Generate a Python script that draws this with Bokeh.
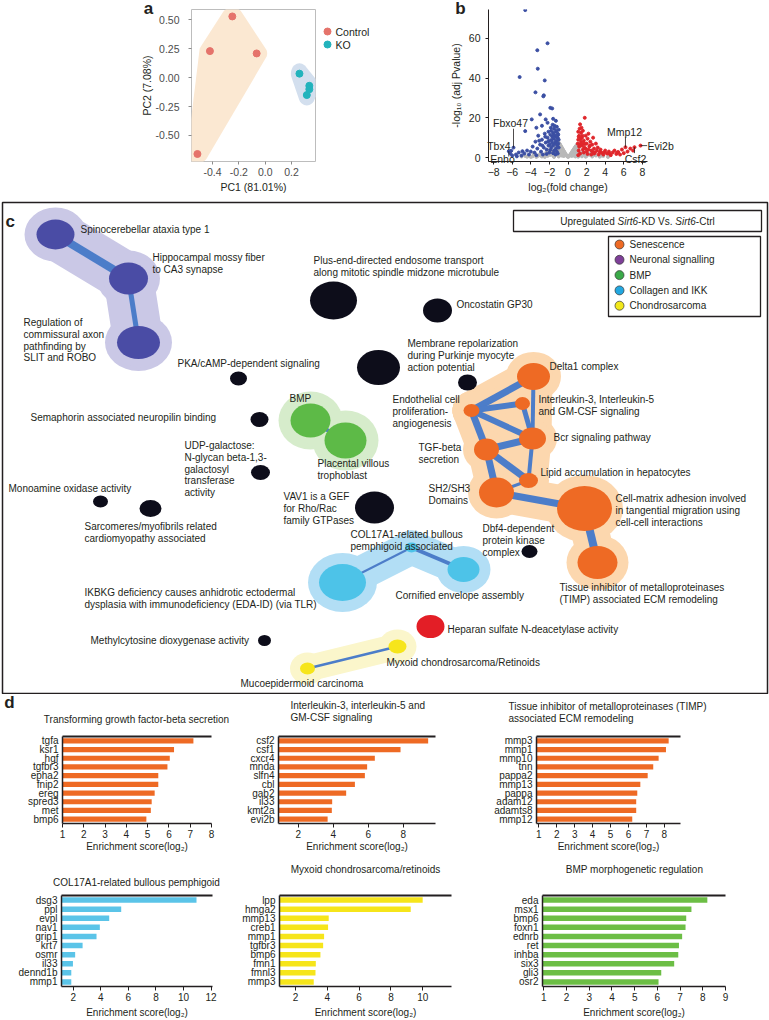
import numpy as np
from bokeh.plotting import figure
from bokeh.layouts import column, row
from bokeh.models import Range1d, FactorRange, FixedTicker, PrintfTickFormatter, LinearAxis, GridBox
from bokeh.core.properties import value
from bokeh.embed import file_html
from bokeh.resources import INLINE

FONT = "Liberation Sans"
INK = "#231F20"

# ---------------- panel a : PCA ----------------
pca_ctrl_pc1 = [-0.25, -0.42, -0.065, -0.515]
pca_ctrl_pc2 = [0.53, 0.23, 0.21, -0.66]
pca_ko_pc1 = [0.26, 0.335, 0.335, 0.316]
pca_ko_pc2 = [0.035, -0.07, -0.10, -0.15]
pca_groups = ["Control", "KO"]
pca_colors = ["#E5736B", "#22B3BC"]

# ---------------- panel b : volcano ----------------
grey_x = [-1.0, -0.9, -0.8, -0.7, -0.6, -0.5, -0.4, -0.3, -0.2, -0.1, 0.0, 0.1, 0.2, 0.3, 0.4, 0.5, 0.6, 0.7, 0.8, 0.9, 1.0,
          -0.95, -0.85, -0.75, -0.65, -0.55, -0.45, -0.35, -0.25, 0.25, 0.35, 0.45, 0.55, 0.65, 0.75, 0.85, 0.95,
          -0.9, -0.8, -0.7, -0.9, -1.0, -1.0, -0.6, -0.5, -0.8, -0.4, 0.4, 0.5, 0.6, 0.7, 0.8, 0.9, 1.0, 1.0, 0.8, -1.0,
          -5.0, -4.6, -4.2, -3.8, -3.5, -3.2, -3.0, -2.8, -2.6, -2.4, -2.2, -2.0, -1.8, -1.6, -1.4, -1.2, -1.1,
          -4.0, -3.4, -2.5, -1.5, 1.1, 1.3, 1.5, 1.7, 2.0, 2.3, 2.6, 3.0, 3.4, 3.8, 4.3, 1.2, 1.6, 2.1,
          -1.3, -1.2, -1.4, -1.1, -0.95, -0.85, 0.95, 0.85, -1.15, -1.25, -1.05, -0.7, -0.6, 0.6, 0.7,
          -2.9, -2.3, -1.9, -1.7, -3.7, -4.4, -2.1, 1.4, 1.9, 2.5, 2.8, 3.6, 1.05, 1.15]
grey_y = [7.5, 6.8, 6.0, 5.2, 4.4, 3.6, 2.8, 2.0, 1.3, 0.7, 0.3, 0.6, 1.1, 1.8, 2.5, 3.2, 3.9, 4.6, 5.3, 6.0, 6.5,
          7.0, 6.4, 5.6, 4.8, 4.0, 3.2, 2.4, 1.6, 1.4, 2.1, 2.9, 3.6, 4.3, 5.0, 5.6, 6.2,
          3.0, 2.0, 1.0, 1.2, 4.5, 2.5, 1.8, 0.8, 4.0, 0.9, 0.8, 1.6, 2.3, 1.2, 3.0, 2.0, 4.0, 1.0, 0.5, 0.5,
          0.5, 0.8, 1.0, 0.6, 1.4, 0.9, 1.8, 0.5, 1.2, 2.0, 0.8, 1.6, 2.4, 1.0, 2.0, 3.0, 1.2,
          0.3, 0.3, 0.3, 0.3, 0.4, 1.2, 0.6, 1.6, 0.8, 1.4, 0.5, 1.0, 0.4, 0.8, 0.3, 2.2, 2.6, 2.0,
          5.0, 6.5, 4.0, 8.0, 5.5, 3.2, 5.0, 2.2, 9.0, 7.5, 3.8, 3.0, 2.5, 1.0, 2.8,
          1.0, 2.8, 1.3, 3.2, 1.9, 0.4, 3.6, 2.0, 0.4, 2.2, 1.4, 1.0, 3.0, 4.8]
blue_x = [-4.6, -2.2, -3.3, -3.25, -5.2, -2.5, -3.5, -2.6, -2.65, -1.9, -1.7, -3.0, -3.9, -2.4, -4.6, -2.8, -2.2, -1.6,
          -3.4, -1.3, -1.0, -1.1, -1.2, -1.3, -1.1, -1.0, -1.2, -1.4, -1.5, -1.6, -1.5, -1.7, -1.8, -1.9, -1.7, -1.6,
          -1.4, -1.3, -1.2, -1.0, -1.1, -1.5, -1.8, -2.0, -2.1, -2.2, -2.3, -2.4, -2.5, -2.6, -2.8, -2.9, -3.0, -3.2,
          -3.3, -3.5, -3.6, -3.8, -4.0, -4.2, -4.4, -4.7, -5.0, -5.3, -5.6, -5.86, -6.2, -6.0, -5.5, -4.9, -2.0, -2.7,
          -3.4, -1.9, -2.3, -1.6, -1.05, -1.25, -1.45, -1.35, -2.1, -1.85, -6.37, -6.1,
          -1.15, -1.35, -1.55, -1.75, -1.95, -2.15, -1.05, -1.25, -1.65, -2.45, -2.75, -3.1]
blue_y = [74.2, 57.5, 54.0, 44.7, 40.5, 38.8, 32.8, 31.3, 30.8, 25.0, 24.7, 21.7, 19.2, 19.2, 13.3, 16.0, 17.5, 19.5,
          15.0, 18.5, 14.0, 12.0, 15.5, 13.0, 10.0, 9.0, 8.5, 11.0, 14.5, 12.5, 9.5, 10.5, 13.5, 11.5, 7.5, 6.0,
          7.0, 4.5, 3.0, 5.0, 2.0, 3.5, 5.0, 8.5, 6.0, 10.0, 4.0, 7.5, 12.0, 5.0, 9.0, 3.0, 6.5, 11.0,
          4.5, 8.0, 2.5, 5.5, 3.0, 1.5, 3.5, 2.0, 1.0, 2.5, 1.5, 5.0, 2.0, 1.0, 0.6, 3.2, 2.5, 1.5,
          1.2, 3.8, 1.8, 2.2, 7.0, 10.5, 16.0, 1.5, 13.0, 15.0, 3.2, 3.4,
          6.0, 8.0, 11.5, 9.0, 6.5, 8.0, 11.5, 13.5, 16.5, 10.5, 6.0, 8.5]
red_x = [1.8, 1.3, 1.1, 1.2, 1.4, 1.5, 1.6, 1.7, 1.9, 2.0, 2.1, 2.2, 2.3, 2.4, 2.5, 2.6, 2.7, 2.8, 2.9, 3.0, 3.1, 3.2,
         3.3, 3.5, 3.6, 3.8, 4.0, 4.2, 4.4, 4.6, 4.8, 5.0, 5.2, 5.4, 5.6, 5.8, 6.0, 6.18, 6.4, 6.7, 7.0, 7.15, 7.8,
         1.1, 1.05, 1.2, 1.15, 1.3, 1.4, 1.5, 1.6, 1.7, 1.8, 1.9, 2.0, 2.1, 2.2, 1.1, 1.25, 1.45, 1.35, 2.5, 2.8,
         3.4, 3.9, 4.5, 5.3, 1.15, 1.35, 1.55, 1.75, 1.25, 1.65, 2.35, 2.65]
red_y = [20.0, 16.7, 13.0, 11.0, 12.5, 10.0, 13.5, 8.5, 11.0, 7.0, 9.5, 12.0, 5.5, 8.0, 3.5, 6.5, 10.0, 4.5, 2.5, 7.0,
         3.5, 5.0, 1.5, 4.0, 2.5, 1.5, 3.5, 2.0, 3.0, 1.2, 2.5, 3.5, 1.8, 2.8, 1.5, 4.0, 2.2, 5.2, 3.0, 4.5, 3.5, 5.2,
         6.0, 9.0, 7.0, 5.5, 3.5, 2.0, 8.0, 6.0, 4.0, 2.5, 6.8, 4.5, 3.0, 1.8, 4.0, 1.2, 14.5, 15.0, 6.8, 1.5, 2.0,
         2.8, 2.6, 1.8, 2.4, 10.5, 9.5, 11.0, 5.0, 6.0, 7.0, 6.0, 3.0]
vol_gene = ["Fbxo47", "Tbx4", "Enho", "Mmp12", "Evi2b", "Csf2"]
vol_gene_x = [-5.86, -6.1, -6.37, 6.18, 7.8, 7.15]
vol_gene_y = [5.0, 3.4, 3.2, 5.2, 6.0, 5.2]

# ---------------- panel c : enrichment network ----------------
node_x = [55, 128, 138, 333, 437, 238, 378, 467, 259, 260, 100, 150, 374, 264, 529, 310, 345, 533, 522, 471,
          532, 486, 528, 496, 584, 597, 342, 411, 463, 430, 307, 397]
node_y = [234, 278, 342, 300, 310, 378, 367, 382, 419, 472, 501, 508, 507, 640, 551, 420, 440, 376, 403, 410,
          438, 449, 480, 492, 508, 562, 582, 547, 569, 626, 668, 646]
node_w = [38, 39, 43, 47, 29, 17, 43, 19, 18, 19, 15, 22, 39, 13, 16, 40, 42, 33, 15, 16,
          27, 25, 19, 35, 55, 40, 47, 13, 32, 28, 15, 18]
node_h = [30, 32, 33, 38, 24, 14, 35, 16, 15, 15, 12, 17, 32, 11, 13, 34, 36, 27, 13, 13,
          22, 22, 15, 30, 45, 33, 37, 10, 25, 23, 12, 14]
node_group = ["neuro", "neuro", "neuro", "other", "other", "other", "other", "other", "other", "other",
              "other", "other", "other", "other", "other", "bmp", "bmp", "sen", "sen", "sen",
              "sen", "sen", "sen", "sen", "sen", "sen", "col", "col", "col", "hep",
              "chondro", "chondro"]
edge_a = [0, 1, 15, 17, 19, 19, 18, 17, 19, 21, 21, 21, 20, 22, 23, 24, 26, 27, 30]
edge_b = [1, 2, 16, 19, 18, 20, 20, 20, 21, 20, 22, 23, 22, 23, 24, 25, 27, 28, 31]
edge_w = [8, 5, 4, 7, 6, 6, 5, 4, 7, 7, 7, 7, 4, 3, 7, 8, 2, 4, 2.5]

c_labels = [
    ("Spinocerebellar ataxia type 1", 80, 229),
    ("Hippocampal mossy fiber\nto CA3 synapse", 152, 257),
    ("Regulation of\ncommissural axon\npathfinding by\nSLIT and ROBO", 23, 322),
    ("Plus-end-directed endosome transport\nalong mitotic spindle midzone microtubule", 313, 260),
    ("Oncostatin GP30", 456, 304),
    ("PKA/cAMP-dependent signaling", 177, 363),
    ("Membrane repolarization\nduring Purkinje myocyte\naction potential", 407, 343),
    ("Delta1 complex", 549, 366),
    ("Endothelial cell\nproliferation-\nangiogenesis", 392, 399),
    ("Interleukin-3, Interleukin-5\nand GM-CSF signaling", 538, 399),
    ("Semaphorin associated neuropilin binding", 30, 417),
    ("BMP", 289, 398),
    ("Bcr signaling pathway", 553, 437),
    ("UDP-galactose:\nN-glycan beta-1,3-\ngalactosyl\ntransferase\nactivity", 184, 445),
    ("TGF-beta\nsecretion", 418, 447),
    ("Placental villous\ntrophoblast", 317, 463),
    ("Lipid accumulation in hepatocytes", 540, 472),
    ("Monoamine oxidase activity", 8, 488),
    ("SH2/SH3\nDomains", 428, 488),
    ("VAV1 is a GEF\nfor Rho/Rac\nfamily GTPases", 283, 496),
    ("Cell-matrix adhesion involved\nin tangential migration using\ncell-cell interactions", 615, 498),
    ("Sarcomeres/myofibrils related\ncardiomyopathy associated", 84, 526),
    ("Dbf4-dependent\nprotein kinase\ncomplex", 482, 528),
    ("COL17A1-related bullous\npemphigoid associated", 350, 534),
    ("Tissue inhibitor of metalloproteinases\n(TIMP) associated ECM remodeling", 559, 587),
    ("IKBKG deficiency causes anhidrotic ectodermal\ndysplasia with immunodeficiency (EDA-ID) (via TLR)", 84, 592),
    ("Cornified envelope assembly", 395, 595),
    ("Heparan sulfate N-deacetylase activity", 447, 629),
    ("Methylcytosine dioxygenase activity", 90, 640),
    ("Myxoid chondrosarcoma/Retinoids", 386, 662),
    ("Mucoepidermoid carcinoma", 240, 683),
]
legend_labels = ["Senescence", "Neuronal signalling", "BMP", "Collagen and IKK", "Chondrosarcoma"]
legend_colors = ["#EE6A24", "#7E3F98", "#3BAA49", "#22A7E0", "#F2E81B"]

# ---------------- panel d : enrichment bars ----------------
tgf_genes = ["tgfa", "ksr1", "hgf", "tgfbr3", "epha2", "fnip2", "ereg", "spred3", "met", "bmp6"]
tgf_vals = [7.15, 6.24, 6.04, 5.93, 5.5, 5.5, 5.33, 5.19, 5.15, 4.94]
il_genes = ["csf2", "csf1", "cxcr4", "mnda", "slfn4", "cbl", "gab2", "il33", "kmt2a", "evi2b"]
il_vals = [9.43, 7.85, 6.38, 5.94, 5.81, 5.24, 4.74, 3.94, 3.92, 3.68]
timp_genes = ["mmp3", "mmp1", "mmp10", "tnn", "pappa2", "mmp13", "pappa", "adam12", "adamts8", "mmp12"]
timp_vals = [8.24, 8.09, 7.68, 7.38, 7.07, 6.66, 6.49, 6.43, 6.43, 6.21]
col_genes = ["dsg3", "ppl", "evpl", "nav1", "grip1", "krt7", "osmr", "il33", "dennd1b", "mmp1"]
col_vals = [10.94, 5.48, 4.61, 3.93, 3.69, 2.68, 2.14, 1.98, 1.86, 1.86]
myx_genes = ["lpp", "hmga2", "mmp13", "creb1", "mmp1", "tgfbr3", "bmp6", "fmn1", "fmnl3", "mmp3"]
myx_vals = [9.99, 9.24, 4.09, 4.05, 3.8, 3.74, 3.57, 3.28, 3.26, 3.15]
bmp_genes = ["eda", "msx1", "bmp6", "foxn1", "ednrb", "ret", "inhba", "six3", "gli3", "osr2"]
bmp_vals = [8.2, 7.5, 7.27, 7.24, 7.09, 6.95, 6.92, 6.74, 6.17, 6.05]


# ---------------- helpers ----------------
def rounded_hull(xs, ys, rx, ry, n=40):
    pts = sorted(set((x + rx * np.cos(t), y + ry * np.sin(t))
                     for x, y in zip(xs, ys) for t in np.linspace(0, 2 * np.pi, n, endpoint=False)))

    def cross(o, a, b):
        return (a[0] - o[0]) * (b[1] - o[1]) - (a[1] - o[1]) * (b[0] - o[0])
    lower, upper = [], []
    for q in pts:
        while len(lower) >= 2 and cross(lower[-2], lower[-1], q) <= 0:
            lower.pop()
        lower.append(q)
    for q in reversed(pts):
        while len(upper) >= 2 and cross(upper[-2], upper[-1], q) <= 0:
            upper.pop()
        upper.append(q)
    h = lower[:-1] + upper[:-1]
    return [q[0] for q in h], [q[1] for q in h]


def style_axis(ax, size="10px", color=INK):
    ax.major_label_text_font = FONT
    ax.major_label_text_font_size = size
    ax.major_label_text_color = color
    ax.axis_label_text_font = FONT
    ax.axis_label_text_font_size = "10.5px"
    ax.axis_label_text_font_style = "normal"
    ax.axis_label_text_color = INK
    ax.minor_tick_line_color = None
    ax.major_tick_in = 0


# ================= panel a =================
pa = figure(width=380, height=201, x_range=Range1d(-0.56, 0.382), y_range=Range1d(-0.725, 0.59),
            output_backend="svg", toolbar_location=None, title=None,
            min_border_left=191, min_border_right=65, min_border_top=9, min_border_bottom=40)
pa.grid.visible = False
pa.outline_line_color = "#BDBDBD"
for ax in (pa.xaxis[0], pa.yaxis[0]):
    style_axis(ax, "10.5px", "#4D4D4D")
    ax.axis_line_color = None
    ax.major_tick_line_color = "#8C8C8C"
    ax.major_tick_out = 3
pa.xaxis.ticker = FixedTicker(ticks=[-0.4, -0.2, 0.0, 0.2])
pa.xaxis.formatter = PrintfTickFormatter(format="%.1f")
pa.yaxis.ticker = FixedTicker(ticks=[-0.5, -0.25, 0.0, 0.25, 0.5])
pa.yaxis.formatter = PrintfTickFormatter(format="%.2f")
pa.xaxis.axis_label = "PC1 (81.01%)"
pa.yaxis.axis_label = "PC2 (7.08%)"
pa.xaxis.major_label_standoff = 3
pa.xaxis.axis_label_standoff = 2
pa.yaxis.major_label_standoff = 9
pa.yaxis.axis_label_standoff = 0

hx, hy = rounded_hull(pca_ctrl_pc1, pca_ctrl_pc2, 0.08, 0.08)
pa.patch(hx, hy, fill_color="#FBE8D2", line_color=None)
hx, hy = rounded_hull(pca_ko_pc1, pca_ko_pc2, 0.065, 0.09)
pa.patch(hx, hy, fill_color="#D3DFEE", line_color=None)
pa.scatter(pca_ctrl_pc1, pca_ctrl_pc2, size=7, color=pca_colors[0])
pa.scatter(pca_ko_pc1, pca_ko_pc2, size=7, color=pca_colors[1])

# ================= panel b =================
pb = figure(width=389, height=201, x_range=Range1d(-8.55, 8.55), y_range=Range1d(-2, 74.5),
            output_backend="svg", toolbar_location=None, title=None,
            min_border_left=108, min_border_right=122, min_border_top=8, min_border_bottom=40)
pb.grid.visible = False
pb.outline_line_color = None
for ax in (pb.xaxis[0], pb.yaxis[0]):
    style_axis(ax, "10.5px", INK)
    ax.axis_line_color = INK
    ax.major_tick_line_color = INK
    ax.major_tick_out = 3
pb.xaxis.ticker = FixedTicker(ticks=[-8, -6, -4, -2, 0, 2, 4, 6, 8])
pb.yaxis.ticker = FixedTicker(ticks=[0, 20, 40, 60])
pb.xaxis.axis_label = "log\u2082(fold change)"
pb.yaxis.axis_label = "-log\u2081\u2080 (adj Pvalue)"
pb.xaxis.major_label_standoff = 3
pb.xaxis.axis_label_standoff = 2
pb.yaxis.major_label_standoff = 5
pb.yaxis.axis_label_standoff = 4

pb.scatter(grey_x, grey_y, size=3, color="#B8B8B8")
pb.scatter(blue_x, blue_y, size=3, color="#3B4FA3")
pb.scatter(red_x, red_y, size=3, color="#E0262B")
vol_lead_x = [-5.86, -6.1, -6.37, 6.18, 8.52, 7.15]
vol_lead_y = [14.5, 3.4, 0.5, 10.2, 6.0, 2.2]
pb.segment(x0=vol_gene_x, y0=vol_gene_y, x1=vol_lead_x, y1=vol_lead_y, line_color=INK, line_width=0.8)

# ================= panel c =================
pc = figure(width=769, height=493, x_range=Range1d(2, 767), y_range=Range1d(693, 202),
            output_backend="svg", toolbar_location=None, x_axis_location=None, y_axis_location=None,
            title=None, min_border_left=2, min_border_right=2, min_border_top=1, min_border_bottom=1)
pc.grid.visible = False
pc.outline_line_color = INK
pc.outline_line_width = 1.5

group_color = {"neuro": "#4A4CA5", "sen": "#EE6A24", "bmp": "#5DBA47", "col": "#4DC3E8",
               "chondro": "#F6E51B", "hep": "#E31E26", "other": "#0D0D1A"}
hull_style = {"neuro": ("#CAC8E6", 12, 50), "sen": ("#FCD7AE", 11, 38), "bmp": ("#D6ECCB", 12, 44),
              "col": ("#B2DEF5", 11, 34), "chondro": ("#FBF6CB", 10, 26)}
for g, (hc, pad, hw) in hull_style.items():
    idx = [i for i, gg in enumerate(node_group) if gg == g]
    pc.ellipse(x=[node_x[i] for i in idx], y=[node_y[i] for i in idx],
               width=[node_w[i] + 2 * pad for i in idx], height=[node_h[i] + 2 * pad for i in idx],
               fill_color=hc, line_color=None)
    es = [(a, b) for a, b in zip(edge_a, edge_b) if node_group[a] == g]
    pc.multi_line(xs=[[node_x[a], node_x[b]] for a, b in es], ys=[[node_y[a], node_y[b]] for a, b in es],
                  line_color=hc, line_width=hw, line_cap="round")

pc.multi_line(xs=[[node_x[a], node_x[b]] for a, b in zip(edge_a, edge_b)],
              ys=[[node_y[a], node_y[b]] for a, b in zip(edge_a, edge_b)],
              line_color="#4C7DC9", line_width=edge_w)
pc.ellipse(x=node_x, y=node_y, width=node_w, height=node_h,
           fill_color=[group_color[g] for g in node_group], line_color=None)

tx, ty, tt = [], [], []
for txt, x0, y0 in c_labels:
    for k, line in enumerate(txt.split("\n")):
        tx.append(x0)
        ty.append(y0 + 11.8 * k)
        tt.append(line)
pc.text(x=tx, y=ty, text=tt, text_font=value(FONT), text_font_size="10px",
        text_baseline="middle", text_color=INK)
pc.text(x=[5], y=[221], text=["c"], text_font=value(FONT), text_font_size="17px",
        text_font_style="bold", text_baseline="middle", text_color=INK)

AW = {'U': 722, 'p': 556, 'r': 333, 'e': 556, 'g': 556, 'u': 556, 'l': 222, 'a': 556, 't': 278, 'd': 556,
      ' ': 278, 'S': 667, 'i': 222, '6': 556, '-': 333, 'K': 667, 'D': 722, 'V': 667, 's': 500, '.': 278,
      'C': 722}
segments = [("Upregulated ", "normal"), ("Sirt6", "italic"), ("-KD Vs. ", "normal"),
            ("Sirt6", "italic"), ("-Ctrl", "normal")]
seg_w = [sum(AW[ch] for ch in s) / 1000 * 10 for s, _ in segments]
pc.quad(left=[513], right=[761], top=[210], bottom=[231], fill_color=None, line_color=INK, line_width=1.3)
xcur = 637 - sum(seg_w) / 2
for (s, st), w in zip(segments, seg_w):
    pc.text(x=[xcur], y=[220.5], text=[s.rstrip()], text_font=value(FONT), text_font_size="10px",
            text_font_style=st, text_baseline="middle", text_color=INK)
    xcur += w

pc.quad(left=[608], right=[760], top=[236], bottom=[316], fill_color=None, line_color=INK, line_width=1.3)
leg_y = [244 + 15.3 * i for i in range(len(legend_labels))]
pc.scatter(x=[619] * len(legend_labels), y=leg_y, size=9, fill_color=legend_colors,
           line_color="#333333", line_width=0.7)
pc.text(x=[629] * len(legend_labels), y=leg_y, text=legend_labels, text_font=value(FONT),
        text_font_size="10px", text_baseline="middle", text_color=INK)


# ================= panel d =================
def bar_panel(genes, vals, color, xr, ticks, W, H, mbl, mbr, mbt, mbb):
    p = figure(width=W, height=H, x_range=Range1d(*xr), y_range=FactorRange(factors=list(reversed(genes))),
               output_backend="svg", toolbar_location=None, title=None,
               min_border_left=mbl, min_border_right=mbr, min_border_top=mbt, min_border_bottom=mbb)
    p.hbar(y=genes, left=xr[0], right=vals, height=0.6, fill_color=color, line_color=None)
    p.outline_line_color = None
    p.grid.visible = False
    xa, ya = p.xaxis[0], p.yaxis[0]
    xa.ticker = FixedTicker(ticks=ticks)
    for ax in (xa, ya):
        style_axis(ax, "10px", INK)
        ax.axis_line_color = INK
        ax.axis_line_width = 1.5
    xa.major_tick_line_color = INK
    xa.major_tick_out = 4
    xa.major_label_standoff = 2
    ya.major_tick_line_color = None
    ya.major_tick_out = 0
    ya.major_label_standoff = 4
    top = LinearAxis(ticker=FixedTicker(ticks=[]), axis_line_color=INK, axis_line_width=2,
                     major_tick_line_color=None, minor_tick_line_color=None,
                     major_label_text_font_size="0px")
    p.add_layout(top, "above")
    return p


d1 = bar_panel(tgf_genes, tgf_vals, "#EE6A24", (1, 8), list(range(1, 9)), 230, 156, 62, 19, 40, 27)
d2 = bar_panel(il_genes, il_vals, "#EE6A24", (0.87, 9.85), [2, 4, 6, 8, 10], 250, 156, 48, 45, 34, 27)
d3 = bar_panel(timp_genes, timp_vals, "#EE6A24", (0.87, 8.9), list(range(1, 10)), 289, 156, 56, 89, 42, 26)
d4 = bar_panel(col_genes, col_vals, "#5BC4E8", (1.15, 12.1), [2, 4, 6, 8, 10, 12], 230, 168, 61, 18, 45, 32)
d5 = bar_panel(myx_genes, myx_vals, "#F6E51B", (1.0, 11.8), [2, 4, 6, 8, 10, 12], 250, 168, 49, 29, 32, 32)
d6 = bar_panel(bmp_genes, bmp_vals, "#6CBE45", (0.94, 9.0), list(range(1, 10)), 289, 168, 62, 44, 32, 32)

main = column(row(pa, pb, spacing=0), pc, row(d1, d2, d3, spacing=0), row(d4, d5, d6, spacing=0), spacing=0)

# ================= transparent overlay for texts outside plot frames =================
ov = figure(width=769, height=1018, x_range=Range1d(0, 769), y_range=Range1d(1018, 0),
            output_backend="svg", toolbar_location=None, x_axis_location=None, y_axis_location=None,
            title=None, min_border=0)
ov.grid.visible = False
ov.outline_line_color = None
ov.background_fill_alpha = 0
ov.border_fill_alpha = 0


def otext(x, y, t, size="10px", align="left", bold=False):
    ov.text(x=[x], y=[y], text=[t], text_font=value(FONT), text_font_size=size, text_align=align,
            text_baseline="middle", text_color=INK, text_font_style="bold" if bold else "normal")


# panel letters
otext(148, 8, "a", "17px", "center", True)
otext(460, 8, "b", "17px", "center", True)
otext(9, 702, "d", "17px", "center", True)
# PCA legend
ov.scatter(x=[327, 327], y=[31, 44], size=7, color=pca_colors)
for gname, yy in zip(pca_groups, [31, 44]):
    otext(335, yy, gname, "10.5px")
# volcano gene labels
vol_lab_x = [510, 510, 502, 624, 647, 635]
vol_lab_y = [122, 145, 158, 131, 145, 158]
vol_lab_align = ["center", "right", "center", "center", "left", "center"]
for g, lx, ly, al in zip(vol_gene, vol_lab_x, vol_lab_y, vol_lab_align):
    otext(lx, ly, g, "10.5px", al)
# bar-chart titles and axis titles
AXT = "Enrichment score(log\u2082)"
otext(136, 719, "Transforming growth factor-beta secretion", align="center")
otext(290, 705, "Interleukin-3, interleukin-5 and")
otext(290, 717, "GM-CSF signaling")
otext(508, 706, "Tissue inhibitor of metalloproteinases (TIMP)")
otext(508, 718, "associated ECM remodeling")
otext(136, 882, "COL17A1-related bullous pemphigoid", align="center")
otext(365, 869, "Myxoid chondrosarcoma/retinoids", align="center")
otext(634, 869, "BMP morphogenetic regulation", align="center")
for cx, cy in [(136.5, 846), (356.5, 846), (608, 846), (136.5, 1012), (365, 1012), (633.5, 1012)]:
    otext(cx, cy, AXT, align="center")

page = GridBox(children=[(main, 0, 0), (ov, 0, 0)])
open("out.html", "w").write(file_html(page, INLINE))
